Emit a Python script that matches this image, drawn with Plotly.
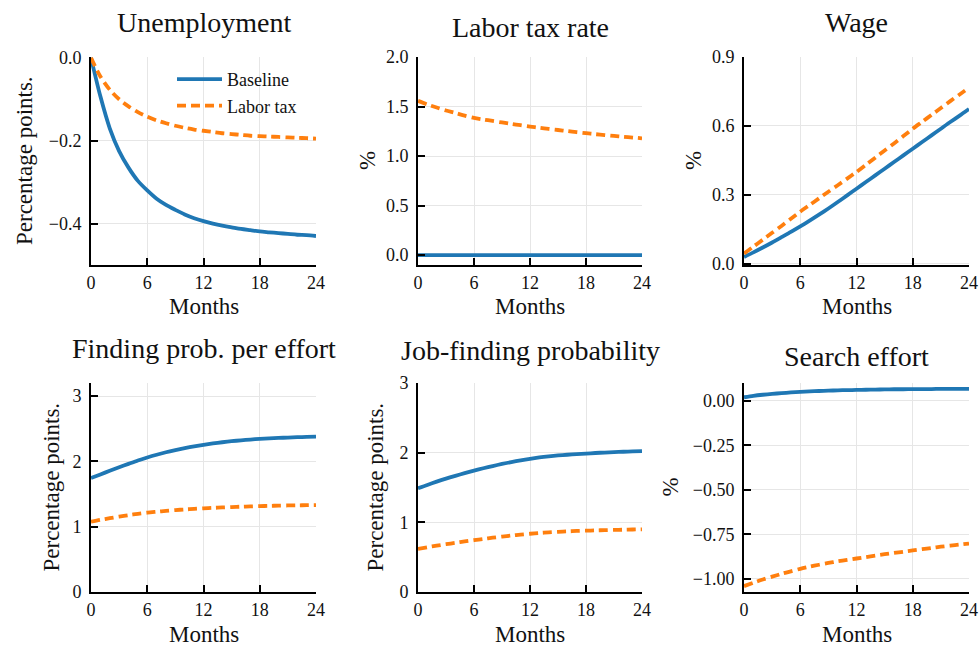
import plotly.graph_objects as go

# ---------------- data ----------------
months = list(range(25))
x_ticks = [0, 6, 12, 18, 24]

unemp_base = [0.0, -0.093, -0.170, -0.225, -0.265, -0.297, -0.320, -0.340, -0.355, -0.367,
              -0.378, -0.387, -0.394, -0.400, -0.405, -0.409, -0.413, -0.416, -0.419, -0.421,
              -0.423, -0.425, -0.427, -0.428, -0.430]
unemp_tax = [0.0, -0.045, -0.077, -0.100, -0.117, -0.131, -0.142, -0.151, -0.158, -0.164,
             -0.169, -0.173, -0.176, -0.179, -0.182, -0.184, -0.186, -0.188, -0.189, -0.190,
             -0.191, -0.192, -0.193, -0.194, -0.195]

taxrate_base = [0.0] * 25
taxrate_tax = [1.557, 1.520, 1.490, 1.460, 1.435, 1.408, 1.385, 1.369, 1.354, 1.339,
               1.325, 1.311, 1.298, 1.286, 1.274, 1.263, 1.252, 1.241, 1.231, 1.221,
               1.212, 1.203, 1.195, 1.187, 1.179]

wage_base = [0.030, 0.050, 0.071, 0.093, 0.116, 0.139, 0.163, 0.188, 0.214, 0.241,
             0.269, 0.298, 0.327, 0.356, 0.385, 0.414, 0.443, 0.472, 0.501, 0.530,
             0.559, 0.588, 0.617, 0.645, 0.674]
wage_tax = [0.045, 0.075, 0.105, 0.135, 0.165, 0.196, 0.227, 0.256, 0.285, 0.314,
            0.342, 0.371, 0.400, 0.431, 0.462, 0.493, 0.524, 0.556, 0.588, 0.618,
            0.648, 0.678, 0.708, 0.737, 0.766]

fpe_base = [1.745, 1.800, 1.856, 1.910, 1.962, 2.014, 2.060, 2.102, 2.140, 2.173,
            2.203, 2.230, 2.254, 2.275, 2.293, 2.309, 2.322, 2.334, 2.344, 2.352,
            2.359, 2.365, 2.370, 2.374, 2.378]
fpe_tax = [1.077, 1.105, 1.130, 1.155, 1.177, 1.197, 1.215, 1.229, 1.242, 1.254,
           1.264, 1.273, 1.281, 1.288, 1.295, 1.301, 1.306, 1.311, 1.315, 1.319,
           1.322, 1.325, 1.327, 1.329, 1.331]

jf_base = [1.488, 1.537, 1.584, 1.628, 1.668, 1.706, 1.742, 1.776, 1.808, 1.838,
           1.865, 1.890, 1.912, 1.931, 1.947, 1.960, 1.970, 1.979, 1.987, 1.995,
           2.002, 2.008, 2.013, 2.018, 2.022]
jf_tax = [0.620, 0.643, 0.665, 0.686, 0.706, 0.725, 0.744, 0.762, 0.779, 0.795,
          0.810, 0.824, 0.836, 0.847, 0.856, 0.864, 0.870, 0.876, 0.880, 0.884,
          0.888, 0.891, 0.894, 0.897, 0.900]

effort_base = [0.020, 0.028, 0.034, 0.039, 0.043, 0.047, 0.050, 0.053, 0.055, 0.057,
               0.059, 0.060, 0.061, 0.062, 0.063, 0.064, 0.065, 0.065, 0.066, 0.066,
               0.066, 0.067, 0.067, 0.067, 0.067]
effort_tax = [-1.040, -1.021, -1.003, -0.987, -0.971, -0.957, -0.943, -0.931, -0.920, -0.910,
              -0.901, -0.893, -0.885, -0.877, -0.869, -0.861, -0.854, -0.847, -0.840, -0.833,
              -0.826, -0.819, -0.813, -0.807, -0.801]

titles = ["Unemployment", "Labor tax rate", "Wage",
          "Finding prob. per effort", "Job-finding probability", "Search effort"]
y_titles = ["Percentage points.", "%", "%", "Percentage points.", "Percentage points.", "%"]
series_names = ["Baseline", "Labor tax"]
x_title = "Months"

y_tickvals = [[0.0, -0.2, -0.4], [0.0, 0.5, 1.0, 1.5, 2.0], [0.0, 0.3, 0.6, 0.9],
              [0, 1, 2, 3], [0, 1, 2, 3], [0.0, -0.25, -0.5, -0.75, -1.0]]
y_tickformats = [".1f", ".1f", ".1f", "d", "d", ".2f"]
y_ranges = [[-0.5, 0.002], [-0.1, 2.0], [-0.005, 0.9], [0, 3.2], [0, 3.0], [-1.073, 0.1]]

base_data = [unemp_base, taxrate_base, wage_base, fpe_base, jf_base, effort_base]
tax_data = [unemp_tax, taxrate_tax, wage_tax, fpe_tax, jf_tax, effort_tax]

# ---------------- layout geometry (pixels) ----------------
W, H = 979, 648
cols = [(91, 316), (418, 642), (744, 969)]
rows = [(57, 265), (383, 592)]
title_y = [22, 28, 22, 349, 350, 356]
ytitle_x = [24, 367, 693, 51, 375, 670]
months_y = [306, 634]

BLUE = "#1f77b4"
ORANGE = "#ff7f0e"
FONT = "Liberation Serif"

fig = go.Figure()
annotations = []
layout_axes = {}

for i in range(6):
    r, c = divmod(i, 3)
    sx = "" if i == 0 else str(i + 1)
    fig.add_trace(go.Scatter(x=months, y=base_data[i], mode="lines", name=series_names[0],
                             line=dict(color=BLUE, width=3.8, shape="spline", smoothing=0.8),
                             showlegend=(i == 0),
                             legendgroup="b", xaxis="x" + sx, yaxis="y" + sx))
    fig.add_trace(go.Scatter(x=months, y=tax_data[i], mode="lines", name=series_names[1],
                             line=dict(color=ORANGE, width=3.8, dash="9px,5px",
                                       shape="spline", smoothing=0.8),
                             showlegend=(i == 0), legendgroup="t",
                             xaxis="x" + sx, yaxis="y" + sx))
    x0, x1 = cols[c]
    y0, y1 = rows[r]
    common = dict(showline=True, linecolor="black", linewidth=2, mirror=False,
                  ticks="inside", ticklen=7, tickwidth=1.5, tickcolor="black",
                  showgrid=True, gridcolor="#e6e6e6", gridwidth=1, zeroline=False,
                  automargin=False,
                  tickfont=dict(family=FONT, size=18, color="#111"))
    layout_axes["xaxis" + sx] = dict(common, domain=[x0 / W, x1 / W], range=[0, 24],
                                     tickvals=x_ticks, anchor="y" + sx)
    layout_axes["yaxis" + sx] = dict(common, domain=[1 - y1 / H, 1 - y0 / H],
                                     range=y_ranges[i], tickvals=y_tickvals[i],
                                     tickformat=y_tickformats[i], anchor="x" + sx,
                                     ticklabelstandoff=4)
    cx = (x0 + x1) / 2
    annotations.append(dict(text=titles[i], x=cx / W, y=1 - title_y[i] / H,
                            xref="paper", yref="paper", xanchor="center", yanchor="middle",
                            showarrow=False, font=dict(family=FONT, size=28, color="#111")))
    annotations.append(dict(text=x_title, x=cx / W, y=1 - months_y[r] / H,
                            xref="paper", yref="paper", xanchor="center", yanchor="middle",
                            showarrow=False, font=dict(family=FONT, size=23, color="#111")))
    annotations.append(dict(text=y_titles[i], x=ytitle_x[i] / W, y=1 - ((y0 + y1) / 2) / H,
                            xref="paper", yref="paper", xanchor="center", yanchor="middle",
                            textangle=-90, showarrow=False,
                            font=dict(family=FONT, size=23, color="#111")))

fig.update_layout(
    width=W, height=H,
    margin=dict(l=0, r=0, t=0, b=0, autoexpand=False),
    paper_bgcolor="white", plot_bgcolor="white",
    annotations=annotations,
    legend=dict(x=172 / W, y=1 - 61 / H, xanchor="left", yanchor="top",
                bgcolor="rgba(255,255,255,0)", font=dict(family=FONT, size=18, color="#111"),
                itemwidth=45, tracegroupgap=0),
    **layout_axes,
)

fig.write_html("out.html", config={"displayModeBar": False},
               post_script="document.body.style.margin='0';document.body.style.overflow='hidden';")
